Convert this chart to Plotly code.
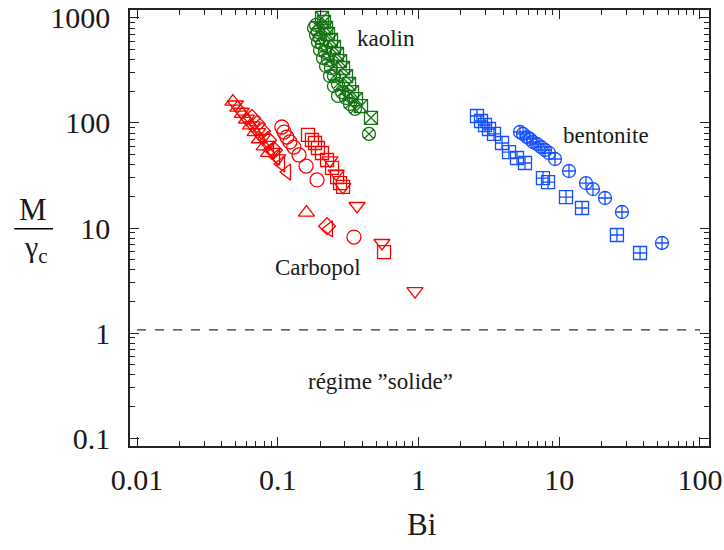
import plotly.graph_objects as go

# ---------------- data (Bi, M/gamma_c) ----------------
# Carbopol (red)
carb_tu_x = [0.048, 0.052, 0.056, 0.060, 0.064, 0.069, 0.074, 0.080, 0.086, 0.16]
carb_tu_y = [160, 140, 122, 108, 95, 82, 70, 60, 52, 14]
carb_td_x = [0.050, 0.055, 0.060, 0.066, 0.072, 0.078, 0.085, 0.092, 0.10, 0.235, 0.26, 0.29, 0.366, 0.55, 0.944]
carb_td_y = [150, 128, 110, 95, 82, 72, 62, 53, 46, 44, 33, 24.6, 16.2, 7.2, 2.5]
carb_ci_x = [0.107, 0.111, 0.116, 0.122, 0.130, 0.1416, 0.159, 0.190, 0.348]
carb_ci_y = [91.6, 82, 73.5, 66, 59, 49.6, 38.9, 28.7, 8.2]
carb_sq_x = [0.164, 0.175, 0.184, 0.193, 0.206, 0.224, 0.243, 0.264, 0.277, 0.291, 0.569]
carb_sq_y = [76.9, 68.9, 64.5, 57.8, 51.8, 44.4, 37.3, 30.6, 26.8, 24.6, 5.9]
carb_di_x = [0.0656, 0.0712, 0.0773, 0.0853, 0.094, 0.224]
carb_di_y = [111.6, 97.8, 83.9, 68.9, 55.3, 10.4]
carb_tl_x = [0.0881, 0.0972, 0.1055, 0.1164, 0.231]
carb_tl_y = [55.3, 47.5, 40.7, 34.1, 9.8]

# kaolin (green)
kao_sq_x = [0.2063, 0.2131, 0.2202, 0.2275, 0.2389, 0.2509, 0.2636, 0.2769, 0.2909,
            0.3055, 0.3209, 0.3370, 0.3597, 0.3904, 0.4597]
kao_sq_y = [1000, 916, 803, 704, 617, 529, 454, 389, 334, 280, 235, 197, 169, 145, 112]
kao_cx_x = [0.187, 0.193, 0.1996, 0.2063, 0.2166, 0.2275, 0.2389, 0.2509, 0.268,
            0.2862, 0.3055, 0.326, 0.3538, 0.4449]
kao_cx_y = [858, 736, 645, 565, 475, 398, 334, 280, 235, 197, 173, 152, 136, 78.6]
kao_ci_x = [0.181, 0.187, 0.193, 0.1996, 0.2097, 0.2202, 0.235, 0.2509, 0.268]
kao_ci_y = [803, 689, 591, 496, 416, 349, 280, 225, 181]

# bentonite (blue)
ben_sq_x = [2.604, 2.78, 2.969, 3.169, 3.439, 3.92, 4.395, 5.01, 5.71, 7.66, 8.32,
            11.17, 14.51, 25.7, 37.5]
ben_sq_y = [116.6, 104.5, 95.7, 87.7, 78.6, 64.5, 52.9, 46.4, 41.6, 29.9, 27.4,
            19.7, 15.5, 8.58, 5.78]
ben_ci_x = [5.26, 5.53, 5.90, 6.20, 6.51, 6.95, 7.42, 7.92, 8.46, 9.33, 11.73,
            15.49, 17.37, 21.14, 27.9, 53.7]
ben_ci_y = [82.1, 78.6, 73.5, 70.4, 65.9, 63.1, 59.1, 55.3, 51.8, 45.4, 34.9,
            26.8, 23.5, 19.3, 14.2, 7.2]

solid_limit = 1.07
x_ticks = [0.01, 0.1, 1, 10, 100]
y_ticks = [0.1, 1, 10, 100, 1000]
x_minor = [m * 10.0 ** e for e in range(-2, 2) for m in range(2, 10)]
y_minor = [m * 10.0 ** e for e in range(-1, 3) for m in range(2, 10)]

RED = "rgb(255,0,0)"
GREEN = "rgb(20,115,20)"
BLUE = "rgb(20,80,255)"
SERIF = "Liberation Serif"
TXT = "#1a1a1a"

fig = go.Figure()


def add(x, y, symbol, color, size):
    fig.add_trace(go.Scatter(
        x=x, y=y, mode="markers", showlegend=False,
        marker=dict(symbol=symbol, size=size, color=color,
                    line=dict(color=color, width=1.3))))


add(carb_tu_x, carb_tu_y, "triangle-up-open", RED, 14)
add(carb_td_x, carb_td_y, "triangle-down-open", RED, 14)
add(carb_ci_x, carb_ci_y, "circle-open", RED, 14)
add(carb_sq_x, carb_sq_y, "square-open", RED, 13)
add(carb_di_x, carb_di_y, "diamond-open", RED, 13)
add(carb_tl_x, carb_tl_y, "triangle-left-open", RED, 14)

add(kao_ci_x, kao_ci_y, "circle-open", GREEN, 13)
add(kao_cx_x, kao_cx_y, "circle-x-open", GREEN, 13)
add(kao_sq_x, kao_sq_y, "square-x-open", GREEN, 13)

add(ben_sq_x, ben_sq_y, "square-cross-open", BLUE, 13)
add(ben_ci_x, ben_ci_y, "circle-cross-open", BLUE, 13)

fig.add_shape(type="line", xref="x", yref="y", x0=x_ticks[0], x1=x_ticks[-1],
              y0=solid_limit, y1=solid_limit,
              line=dict(color="#333333", width=1.2, dash="dash"))

# y-axis title as a fraction
fig.add_shape(type="line", xref="paper", yref="paper", x0=-0.200, x1=-0.133,
              y0=0.498, y1=0.498, line=dict(color="black", width=1.5))

ann = [
    ("kaolin", 0.443, 0.934, 23),
    ("bentonite", 0.822, 0.713, 23),
    ("Carbopol", 0.325, 0.410, 23),
    ("régime ”solide”", 0.432, 0.147, 23),
    ("Bi", 0.504, -0.181, 31),
    ("M", -0.1675, 0.543, 31),
    ("γ<sub>c</sub>", -0.163, 0.452, 30),
]
for t, x, y, s in ann:
    fig.add_annotation(text=t, x=x, y=y, xref="paper", yref="paper",
                       showarrow=False, xanchor="center", yanchor="middle",
                       font=dict(family=SERIF, size=s, color=TXT))

axis_common = dict(
    type="log", showgrid=False, zeroline=False, showline=True, automargin=False,
    linecolor="#222222", linewidth=1.5, mirror="ticks",
    ticks="inside", ticklen=9, tickwidth=1.2, tickcolor="#222222",
    tickfont=dict(family=SERIF, size=30, color=TXT),
)

fig.update_xaxes(range=[-2.0497, 2.064], tickvals=x_ticks,
                 ticktext=["0.01", "0.1", "1", "10", "100"],
                 minor=dict(tickmode="array", tickvals=x_minor, ticks="inside",
                            ticklen=5, tickwidth=1, tickcolor="#222222", showgrid=False),
                 ticklabelstandoff=6, **axis_common)
fig.update_yaxes(range=[-1.076, 3.076], tickvals=y_ticks,
                 ticktext=["0.1", "1", "10", "100", "1000"],
                 minor=dict(tickmode="array", tickvals=y_minor, ticks="inside",
                            ticklen=5, tickwidth=1, tickcolor="#222222", showgrid=False),
                 ticklabelstandoff=12, **axis_common)

fig.update_layout(
    width=724, height=550,
    margin=dict(l=130, r=15, t=10, b=104, autoexpand=False),
    plot_bgcolor="white", paper_bgcolor="white",
)

fig.write_html("out.html")
